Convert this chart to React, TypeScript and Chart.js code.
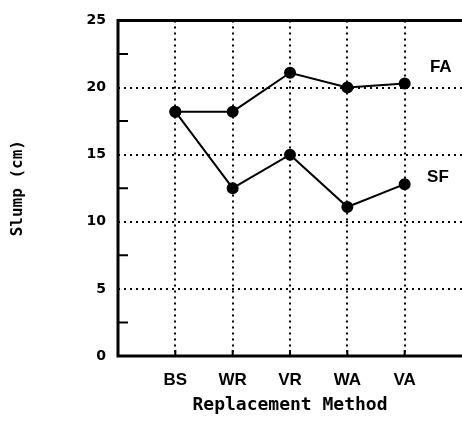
import React, { useEffect, useRef } from "react";
import { Chart, registerables } from "chart.js";

Chart.register(...registerables);

const categories = ["BS", "WR", "VR", "WA", "VA"];
const faValues = [18.2, 18.2, 21.1, 20.0, 20.3];
const sfValues = [18.2, 12.5, 15.0, 11.1, 12.8];
const seriesNames = ["FA", "SF"];
const seriesLabelX = [5.63, 5.58];
const seriesLabelY = [21.5, 13.3];
const yTicks = [0, 5, 10, 15, 20, 25];
const yMinorTicks = [2.5, 7.5, 12.5, 17.5, 22.5];
const yTitle = "Slump (cm)";
const xTitle = "Replacement Method";

const framePlugin = {
  id: "frame",
  beforeDatasetsDraw(chart: any) {
    const { ctx, chartArea, scales } = chart;
    const { left, right, top, bottom } = chartArea;
    ctx.save();
    ctx.strokeStyle = "#000";
    ctx.lineWidth = 3;
    ctx.beginPath();
    ctx.moveTo(right, top);
    ctx.lineTo(left, top);
    ctx.lineTo(left, bottom);
    ctx.lineTo(right, bottom);
    ctx.stroke();
    ctx.lineWidth = 2;
    ctx.beginPath();
    for (const v of yMinorTicks) {
      const y = scales.y.getPixelForValue(v);
      ctx.moveTo(left, y);
      ctx.lineTo(left + 10, y);
    }
    for (let i = 0; i < categories.length; i++) {
      const x = scales.x.getPixelForValue(i + 1);
      ctx.moveTo(x, bottom);
      ctx.lineTo(x, bottom - 6);
    }
    ctx.stroke();
    ctx.restore();
  },
  afterDatasetsDraw(chart: any) {
    const { ctx, scales } = chart;
    ctx.save();
    ctx.fillStyle = "#000";
    ctx.font = "bold 17px 'Liberation Sans', Arial, sans-serif";
    ctx.textAlign = "center";
    ctx.textBaseline = "middle";
    seriesNames.forEach((name, i) => {
      ctx.fillText(
        name,
        scales.x.getPixelForValue(seriesLabelX[i]),
        scales.y.getPixelForValue(seriesLabelY[i])
      );
    });
    ctx.restore();
  },
};

export default function App() {
  const ref = useRef<HTMLCanvasElement>(null);
  useEffect(() => {
    document.body.style.margin = "0";
    const canvas = ref.current;
    if (!canvas) return;
    const mk = (vals: number[]) => vals.map((v, i) => ({ x: i + 1, y: v }));
    const chart = new Chart(canvas, {
      type: "line",
      data: {
        datasets: [
          {
            label: seriesNames[0],
            data: mk(faValues),
            borderColor: "#000",
            backgroundColor: "#000",
            borderWidth: 2,
            pointRadius: 5,
            pointBackgroundColor: "#000",
            pointBorderColor: "#000",
          },
          {
            label: seriesNames[1],
            data: mk(sfValues),
            borderColor: "#000",
            backgroundColor: "#000",
            borderWidth: 2,
            pointRadius: 5,
            pointBackgroundColor: "#000",
            pointBorderColor: "#000",
          },
        ],
      },
      options: {
        animation: false,
        responsive: false,
        layout: { autoPadding: false, padding: { top: 14, right: 0, bottom: 0, left: 0 } },
        plugins: { legend: { display: false }, tooltip: { enabled: false } },
        scales: {
          x: {
            type: "linear",
            min: 0,
            max: categories.length + 1,
            afterBuildTicks: (s: any) => {
              s.ticks = [];
              for (let i = 0; i <= categories.length + 1; i++) s.ticks.push({ value: i });
            },
            afterFit: (s: any) => {
              s.height = 66;
              s.paddingRight = 0;
              s.paddingLeft = 0;
            },
            ticks: {
              color: "#000",
              padding: 14,
              maxRotation: 0,
              autoSkip: false,
              font: { family: "'Liberation Sans', Arial, sans-serif", size: 17, weight: "bold" },
              callback: (v: any) => categories[Number(v) - 1] ?? "",
            },
            grid: {
              drawTicks: false,
              lineWidth: 2,
              color: (c: any) =>
                c.tick && c.tick.value >= 1 && c.tick.value <= categories.length ? "#000" : "rgba(0,0,0,0)",
            },
            border: { display: false, dash: [2, 4] },
            title: {
              display: true,
              text: xTitle,
              color: "#000",
              padding: { top: 0, bottom: 6 },
              font: { family: "'DejaVu Sans Mono', monospace", size: 18, weight: "bold" },
            },
          },
          y: {
            type: "linear",
            min: 0,
            max: 25,
            afterBuildTicks: (s: any) => {
              s.ticks = yTicks.map((v) => ({ value: v }));
            },
            afterFit: (s: any) => {
              s.width = 118;
            },
            ticks: {
              color: "#000",
              padding: 12,
              font: { family: "'DejaVu Sans', sans-serif", size: 14, weight: "bold" },
            },
            grid: {
              drawTicks: false,
              lineWidth: 2,
              color: (c: any) =>
                c.tick && c.tick.value > 0 && c.tick.value < 25 ? "#000" : "rgba(0,0,0,0)",
            },
            border: { display: false, dash: [2, 4] },
            title: {
              display: true,
              text: yTitle,
              color: "#000",
              padding: { top: 8, bottom: 0 },
              font: { family: "'DejaVu Sans Mono', monospace", size: 16, weight: "bold" },
            },
          },
        },
      },
      plugins: [framePlugin],
    } as any);
    return () => chart.destroy();
  }, []);
  return <canvas ref={ref} width={462} height={422} style={{ display: "block" }} />;
}
